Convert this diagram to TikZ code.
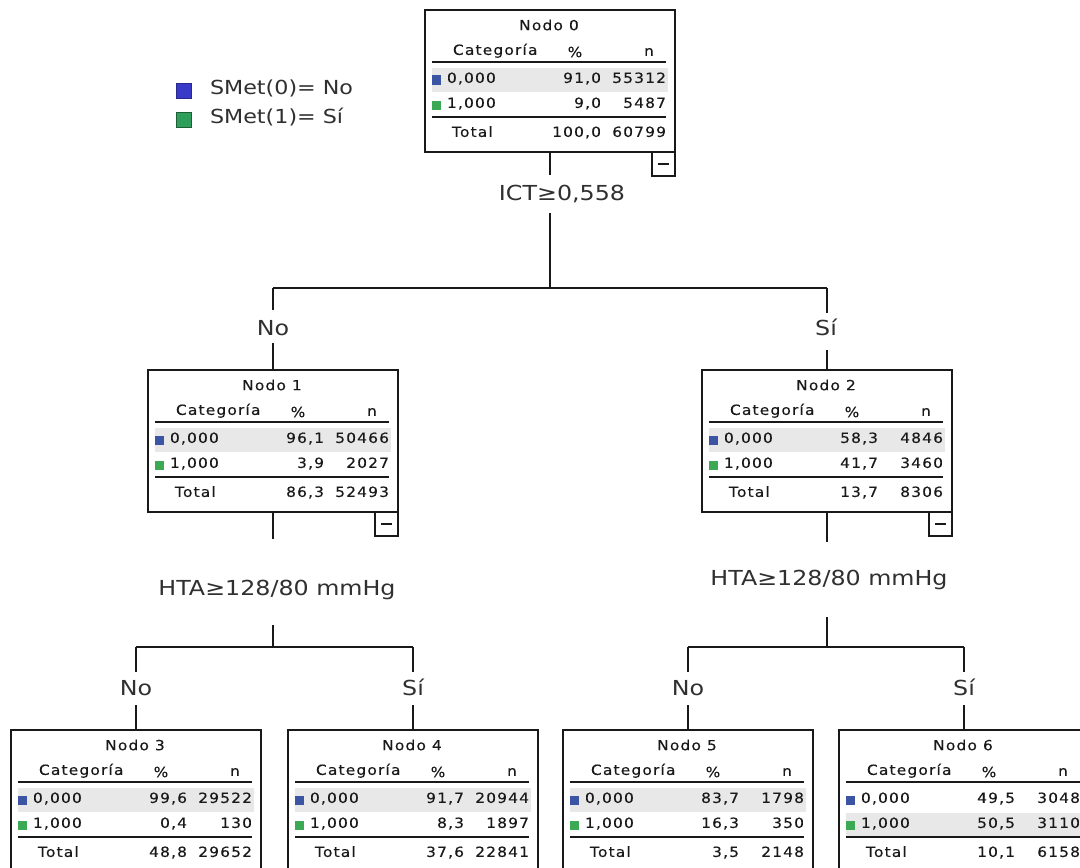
\documentclass[tikz,border=0pt]{standalone}
\usepackage{fontspec}
\usetikzlibrary{calc}
\newfontfamily\tabfont[FakeStretch=1.1,LetterSpace=8.5,FakeBold=0.25]{DejaVu Sans}
\newfontfamily\labfont[FakeStretch=1.15]{DejaVu Sans}
\definecolor{rowgray}{RGB}{232,232,232}
\definecolor{cblue}{RGB}{60,84,164}
\definecolor{cgreen}{RGB}{60,170,84}
\definecolor{lblue}{RGB}{58,58,200}
\definecolor{lgreen}{RGB}{46,158,90}
\definecolor{ink}{RGB}{25,25,25}
\tikzset{
  tb/.style={draw=ink, line width=1pt, minimum width=187.5pt, minimum height=106.5pt, inner sep=0pt, outer sep=0pt, anchor=north west},
  tt/.style={font={\tabfont\fontsize{10.5}{12}\selectfont}, text=ink, inner sep=0pt, outer sep=0pt},
  lab/.style={font={\labfont\fontsize{15.5}{18}\selectfont}, text=ink!90, inner sep=0pt, outer sep=0pt, anchor=base},
  leg/.style={font={\labfont\fontsize{14.5}{17}\selectfont}, text=ink!90, inner sep=0pt, outer sep=0pt, anchor=mid west},
  ln/.style={draw=ink, line width=1.1pt},
  rl/.style={draw=ink, line width=1.4pt},
  minusbox/.style={draw=ink, line width=1pt, minimum width=17.25pt, minimum height=18pt, inner sep=0pt, outer sep=0pt, anchor=north east,
    path picture={\draw[ink, line width=1pt] ([xshift=-4pt]path picture bounding box.center) -- ([xshift=4pt]path picture bounding box.center);}},
  sq/.style={minimum width=6.75pt, minimum height=6.75pt, inner sep=0pt, outer sep=0pt},
}
% #1 name #2 x #3 y #4 number #5 highlighted row #6 p0 #7 n0 #8 p1 #9 n1
\newcommand\tbox[9]{%
  \node[tb] (#1) at (#2,#3) {};
  \ifnum#5=1
    \fill[rowgray] ($(#1.north west)+(7,58)$) rectangle ($(#1.north west)+(243,82)$);
  \else
    \fill[rowgray] ($(#1.north west)+(7,83)$) rectangle ($(#1.north west)+(243,106)$);
  \fi
  \node[tt] (#1-title) at ($(#1.north west)+(124,15)$) {Nodo #4};
  \node[tt, anchor=mid west] (#1-cat) at ($(#1.north west)+(28,42)$) {Categoría};
  \node[tt] (#1-pc) at ($(#1.north west)+(150,42)$) {\%};
  \node[tt] (#1-nn) at ($(#1.north west)+(224,42)$) {n};
  \draw[rl] ($(#1.north west)+(7,52)$) -- ($(#1.north west)+(241,52)$);
  \node[sq, fill=cblue] (#1-s0) at ($(#1.north west)+(11.5,70)$) {};
  \node[sq, fill=cgreen] (#1-s1) at ($(#1.north west)+(11.5,95)$) {};
  \node[tt, anchor=mid west] (#1-c0) at ($(#1.north west)+(22,70)$) {0,000};
  \node[tt, anchor=mid west] (#1-c1) at ($(#1.north west)+(22,95)$) {1,000};
  \node[tt, anchor=mid east] (#1-p0) at ($(#1.north west)+(176,70)$) {#6};
  \node[tt, anchor=mid east] (#1-n0) at ($(#1.north west)+(241,70)$) {#7};
  \node[tt, anchor=mid east] (#1-p1) at ($(#1.north west)+(176,95)$) {#8};
  \node[tt, anchor=mid east] (#1-n1) at ($(#1.north west)+(241,95)$) {#9};
  \draw[rl] ($(#1.north west)+(7,107)$) -- ($(#1.north west)+(241,107)$);
  \node[tt, anchor=mid west] (#1-tl) at ($(#1.north west)+(27,124)$) {Total};
}
\newcommand\ttot[3]{%
  \node[tt, anchor=mid east] (#1-pt) at ($(#1.north west)+(176,124)$) {#2};
  \node[tt, anchor=mid east] (#1-nt) at ($(#1.north west)+(241,124)$) {#3};
}
\begin{document}
\begin{tikzpicture}[x=0.75pt, y=-0.75pt]
\fill[white] (0,0) rectangle (1080,867);
\useasboundingbox (0,0) rectangle (1080,867);

% legend
\node[sq, minimum width=11.25pt, minimum height=11.25pt, fill=lblue, draw=lblue!70!black, line width=0.4pt] (lg0) at (184,91) {};
\node[sq, minimum width=11.25pt, minimum height=11.25pt, fill=lgreen, draw=lgreen!60!black, line width=0.4pt] (lg1) at (184,120) {};
\node[leg] (lt0) at (210,92) {SMet(0)= No};
\node[leg] (lt1) at (210,121) {SMet(1)= Sí};

% boxes
\tbox{n0}{425}{10}{0}{1}{91,0}{55312}{9,0}{5487}\ttot{n0}{100,0}{60799}
\tbox{n1}{148}{370}{1}{1}{96,1}{50466}{3,9}{2027}\ttot{n1}{86,3}{52493}
\tbox{n2}{702}{370}{2}{1}{58,3}{4846}{41,7}{3460}\ttot{n2}{13,7}{8306}
\tbox{n3}{11}{730}{3}{1}{99,6}{29522}{0,4}{130}\ttot{n3}{48,8}{29652}
\tbox{n4}{288}{730}{4}{1}{91,7}{20944}{8,3}{1897}\ttot{n4}{37,6}{22841}
\tbox{n5}{563}{730}{5}{1}{83,7}{1798}{16,3}{350}\ttot{n5}{3,5}{2148}
\tbox{n6}{839}{730}{6}{2}{49,5}{3048}{50,5}{3110}\ttot{n6}{10,1}{6158}

\node[minusbox] (m0) at (n0.south east) {};
\node[minusbox] (m1) at (n1.south east) {};
\node[minusbox] (m2) at (n2.south east) {};

% split labels
\node[lab] (ict) at (562,200) {ICT≥0,558};
\node[lab] (hta1) at (277,595) {HTA≥128/80 mmHg};
\node[lab] (hta2) at (829,585) {HTA≥128/80 mmHg};
\node[lab] (b1no) at (273,335) {No};
\node[lab] (b1si) at (826,335) {Sí};
\node[lab] (b3no) at (136,695) {No};
\node[lab] (b3si) at (413,695) {Sí};
\node[lab] (b5no) at (688,695) {No};
\node[lab] (b5si) at (964,695) {Sí};

% junctions
\coordinate (j0) at (550,288);
\coordinate (j1) at (273,647);
\coordinate (j2) at (827,647);

% level 0 connectors
\draw[ln] (n0.south) -- ++(0,23);
\draw[ln] (n0.south |- 0,213) -- (j0);
\draw[ln] (j0 -| n1.north) -- (j0 -| n2.north);
\draw[ln] (j0 -| n1.north) -- ++(0,22);
\draw[ln] (n1.north) -- ++(0,-27);
\draw[ln] (j0 -| n2.north) -- ++(0,25);
\draw[ln] (n2.north) -- ++(0,-20);

% level 1 left
\draw[ln] (n1.south) -- ++(0,27);
\draw[ln] (n1.south |- 0,625) -- (j1);
\draw[ln] (j1 -| n3.north) -- (j1 -| n4.north);
\draw[ln] (j1 -| n3.north) -- ++(0,25);
\draw[ln] (n3.north) -- ++(0,-25);
\draw[ln] (j1 -| n4.north) -- ++(0,25);
\draw[ln] (n4.north) -- ++(0,-25);

% level 1 right
\draw[ln] (n2.south) -- ++(0,30);
\draw[ln] (n2.south |- 0,617) -- (j2);
\draw[ln] (j2 -| n5.north) -- (j2 -| n6.north);
\draw[ln] (j2 -| n5.north) -- ++(0,25);
\draw[ln] (n5.north) -- ++(0,-25);
\draw[ln] (j2 -| n6.north) -- ++(0,25);
\draw[ln] (n6.north) -- ++(0,-25);
\end{tikzpicture}
\end{document}
